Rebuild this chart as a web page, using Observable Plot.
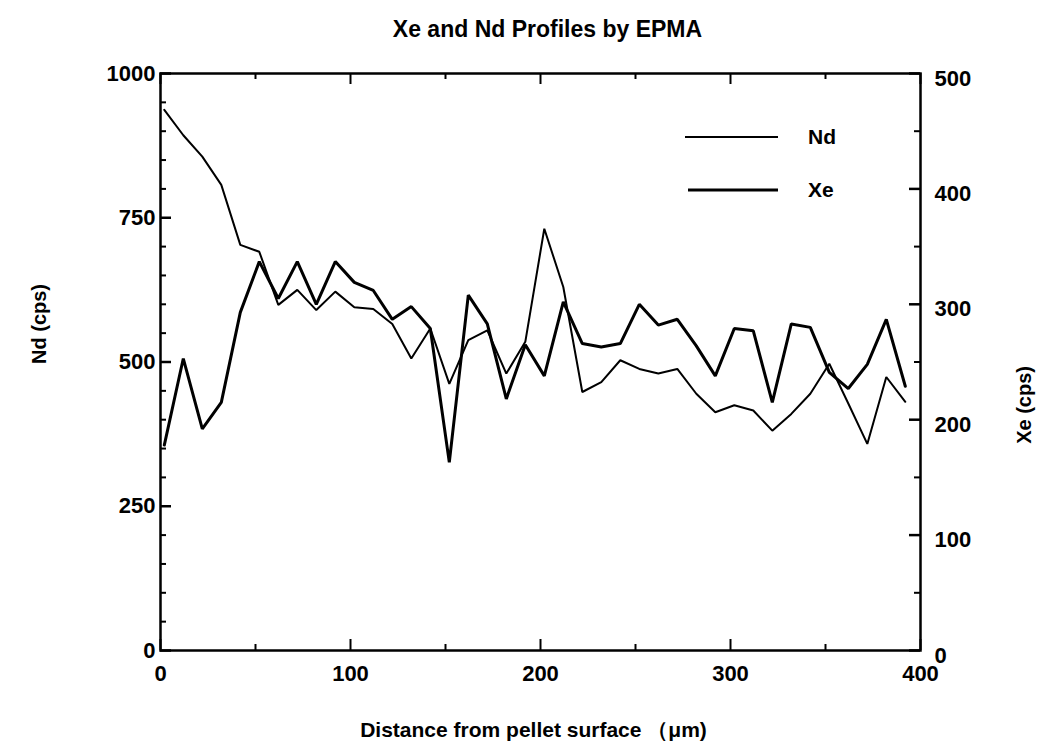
<!DOCTYPE html>
<html>
<head>
<meta charset="utf-8">
<script src="https://cdn.jsdelivr.net/npm/d3@7"></script>
<script src="https://cdn.jsdelivr.net/npm/@observablehq/plot@0.6"></script>
<style>
  html, body { margin: 0; padding: 0; background: #fff; }
  body { width: 1045px; height: 756px; position: relative; overflow: hidden;
         font-family: "Liberation Sans", Arial, sans-serif; }
  #title { height: 50px; width: 1045px; box-sizing: border-box; padding-left: 50px;
           text-align: center; font-size: 23px; font-weight: bold; line-height: 50px;
           padding-top: 4px; color: #000; }
  #legend { position: absolute; left: 680px; top: 120px; width: 200px; height: 90px; }
  #legend div { position: absolute; font-size: 21px; font-weight: bold; }
</style>
</head>
<body>
<div id="title">Xe and Nd Profiles by EPMA</div>
<div id="chart"></div>
<div id="legend"></div>
<script>
// Distance from pellet surface (µm)
const distance = [2,12,22,32,42,52,62,72,82,92,102,112,122,132,142,152,162,172,182,192,
                  202,212,222,232,242,252,262,272,282,292,302,312,322,332,342,352,362,372,382,392];
// Nd (cps), left axis
const nd = [937,893,856,807,703,691,599,625,590,622,595,592,566,506,558,462,538,555,480,535,
            731,630,448,465,503,488,480,488,445,413,425,416,381,410,445,497,428,358,474,431];
// Xe (cps), right axis
const xe = [178,253,192,215,293,337,305,337,300,337,319,312,287,298,279,163,308,283,218,265,
            238,302,266,263,266,300,282,287,264,238,279,277,215,283,280,241,227,248,287,229];

const xTicks = [0,100,200,300,400];
const xMinor = [50,150,250,350];
const ndTicks = [0,250,500,750,1000];
const ndMinor = [50,100,150,200,300,350,400,450,550,600,650,700,800,850,900,950];
const xeTicks = [0,100,200,300,400,500];
const xeMinor = [50,150,250,350,450];
const seriesNames = ["Nd","Xe"];

const data = distance.map((d, i) => ({x: d, nd: nd[i], xe: xe[i]}));

const W = 1045, H = 706;
const mL = 160, mR = 125, mT = 23, mB = 106;
const fw = W - mL - mR, fh = H - mT - mB;
const font = {fontSize: 22, fontWeight: "bold", fill: "#000"};

const chart = Plot.plot({
  width: W, height: H,
  marginLeft: mL, marginRight: mR, marginTop: mT, marginBottom: mB,
  style: {fontFamily: "'Liberation Sans', Arial, sans-serif", color: "#000", background: "#fff"},
  x: {domain: [0, 400]},
  y: {domain: [0, 1000]},
  marks: [
    // inward ticks
    Plot.ruleY(ndTicks, {insetRight: fw - 11, strokeWidth: 2.5}),
    Plot.ruleY(ndMinor, {insetRight: fw - 6, strokeWidth: 2}),
    Plot.ruleY(xeTicks.map(d => d * 2), {insetLeft: fw - 11, strokeWidth: 2.5}),
    Plot.ruleY(xeMinor.map(d => d * 2), {insetLeft: fw - 6, strokeWidth: 2}),
    Plot.ruleX(xTicks, {insetTop: fh - 11, strokeWidth: 2}),
    Plot.ruleX(xMinor, {insetTop: fh - 6, strokeWidth: 2}),
    Plot.ruleX(xTicks, {insetBottom: fh - 11, strokeWidth: 2}),
    Plot.ruleX(xMinor, {insetBottom: fh - 6, strokeWidth: 2}),
    Plot.frame({stroke: "#000", strokeWidth: 2.5}),
    // axes labels
    Plot.axisY({anchor: "left", ticks: ndTicks, tickFormat: d => String(d), tickSize: 0, tickPadding: 5, label: null, ...font}),
    Plot.axisY({anchor: "right", ticks: xeTicks.map(d => d * 2), tickFormat: d => String(d / 2),
                tickSize: 0, tickPadding: 14, label: null, dy: 5, ...font}),
    Plot.axisX({anchor: "bottom", ticks: xTicks, tickFormat: d => String(d), tickSize: 0, tickPadding: 15, label: null, ...font}),
    // data lines
    Plot.line(data, {x: "x", y: "nd", stroke: "#000", strokeWidth: 2, strokeLinejoin: "miter"}),
    Plot.line(data, {x: "x", y: d => d.xe * 2, stroke: "#000", strokeWidth: 3, strokeLinejoin: "miter"}),
    // axis titles
    Plot.text(["Nd (cps)"], {frameAnchor: "left", rotate: -90, dx: -121, dy: 2, fontSize: 20, fontWeight: "bold", fill: "#000"}),
    Plot.text(["Xe (cps)"], {frameAnchor: "right", rotate: -90, dx: 104, dy: 4, fontSize: 20, fontWeight: "bold", fill: "#000"}),
    Plot.text(["Distance from pellet surface （μm)"], {frameAnchor: "bottom", dy: 86, dx: -7, fontSize: 21, fontWeight: "bold", fill: "#000"})
  ]
});
document.getElementById("chart").appendChild(chart);

// legend
const legend = d3.select("#legend");
const lsvg = legend.append("svg").attr("width", 200).attr("height", 90)
  .style("position", "absolute").style("left", 0).style("top", 0);
seriesNames.forEach((name, i) => {
  const y = 17 + i * 53;
  lsvg.append("line").attr("x1", i ? 8 : 5).attr("x2", 98).attr("y1", y).attr("y2", y)
    .attr("stroke", "#000").attr("stroke-width", i ? 3 : 1.8);
  legend.append("div").style("left", "128px").style("top", (y - 12) + "px").text(name);
});
</script>
</body>
</html>
